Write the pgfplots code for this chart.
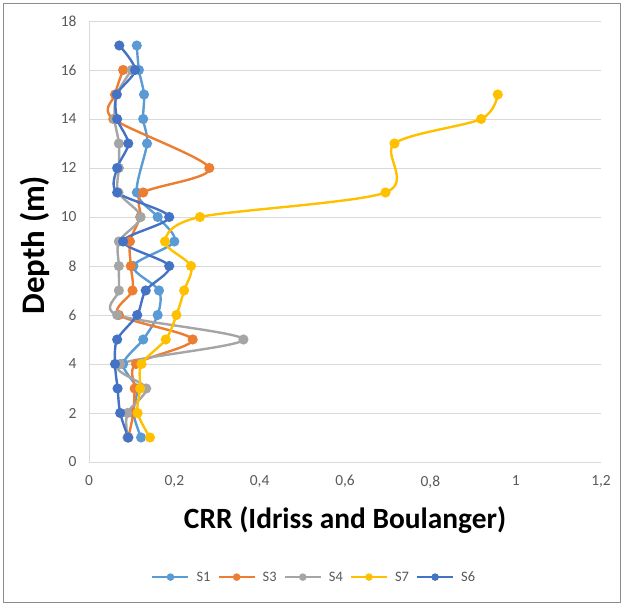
\documentclass[border=0pt]{standalone}
\usepackage{pgfplots}
\pgfplotsset{compat=1.18}
\usepackage{fontspec}
\setmainfont{Carlito}
\definecolor{cS1}{HTML}{5B9BD5}
\definecolor{cS3}{HTML}{ED7D31}
\definecolor{cS4}{HTML}{A5A5A5}
\definecolor{cS7}{HTML}{FFC000}
\definecolor{cS6}{HTML}{4472C4}
\definecolor{ticktext}{HTML}{595959}
\definecolor{gridc}{HTML}{D9D9D9}
\begin{document}
\begin{tikzpicture}[x=1bp,y=1bp]
\useasboundingbox (0,0) rectangle (624,605);
\draw[color=black!45, line width=0.8bp] (3,3) rectangle (620,602);
\begin{axis}[
  at={(89bp,143bp)}, anchor=south west,
  scale only axis, width=512bp, height=441bp,
  xmin=0, xmax=1.2, ymin=0, ymax=18,
  xtick={0,0.2,0.4,0.6,0.8,1,1.2},
  ytick={0,2,4,6,8,10,12,14,16,18},
  /pgf/number format/assume math mode=true,
  /pgf/number format/use comma,
  /pgf/number format/fixed,
  ymajorgrids, grid style={draw=gridc, line width=0.8bp},
  axis lines=left, axis line style={draw=gridc, line width=0.8bp, -},
  major tick length=0pt,
  tick label style={font=\fontsize{15.5}{17}\selectfont, text=ticktext},
  xticklabel style={yshift=-10bp},
  yticklabel style={xshift=-9bp},
  xlabel={CRR (Idriss and Boulanger)},
  ylabel={Depth (m)},
  xlabel style={font=\fontsize{29.5}{34}\selectfont\bfseries, at={(axis description cs:0.5,-0.132)}, anchor=center},
  ylabel style={font=\fontsize{33}{38}\selectfont\bfseries, at={(axis description cs:-0.105,0.492)}, anchor=center, rotate=0},
  legend style={at={(axis description cs:0.44,-0.261)}, anchor=center, draw=none,
    font=\fontsize{14.5}{16}\selectfont, text=ticktext, column sep=5bp, inner sep=0pt,
    nodes={inner xsep=2bp}},
  legend columns=5,
  legend image code/.code={\draw[#1, mark=none, line width=2.2bp] (0bp,0bp) -- (36bp,0bp); \draw[#1, only marks, mark size=2.5bp] plot coordinates {(18bp,0bp)};},
  every axis plot/.append style={line width=2.4bp, smooth, mark=*, mark size=3.8bp},
]
\addplot[color=cS1, mark options={fill=cS1}] coordinates {
(0.122,1) (0.104,2) (0.112,3) (0.080,4) (0.127,5) (0.161,6) (0.164,7) (0.104,8) (0.200,9) (0.161,10) (0.112,11) (0.136,13) (0.127,14) (0.129,15) (0.117,16) (0.112,17)};
\addlegendentry{S1}
\addplot[color=cS3, mark options={fill=cS3}] coordinates {
(0.092,1) (0.104,2) (0.107,3) (0.110,4) (0.243,5) (0.070,6) (0.102,7) (0.098,8) (0.096,9) (0.120,10) (0.127,11) (0.282,12) (0.057,14) (0.061,15) (0.080,16)};
\addlegendentry{S3}
\addplot[color=cS4, mark options={fill=cS4}] coordinates {
(0.090,1) (0.090,2) (0.134,3) (0.073,4) (0.362,5) (0.066,6) (0.070,7) (0.070,8) (0.070,9) (0.121,10) (0.069,11) (0.070,12) (0.070,13) (0.060,14) (0.065,15) (0.100,16)};
\addlegendentry{S4}
\addplot[color=cS7, mark options={fill=cS7}] coordinates {
(0.143,1) (0.114,2) (0.120,3) (0.123,4) (0.180,5) (0.205,6) (0.223,7) (0.239,8) (0.178,9) (0.260,10) (0.695,11) (0.716,13) (0.919,14) (0.958,15)};
\addlegendentry{S7}
\addplot[color=cS6, mark options={fill=cS6}] coordinates {
(0.092,1) (0.073,2) (0.067,3) (0.061,4) (0.066,5) (0.113,6) (0.133,7) (0.188,8) (0.080,9) (0.188,10) (0.066,11) (0.066,12) (0.092,13) (0.066,14) (0.065,15) (0.108,16) (0.071,17)};
\addlegendentry{S6}
\end{axis}
\end{tikzpicture}
\end{document}
